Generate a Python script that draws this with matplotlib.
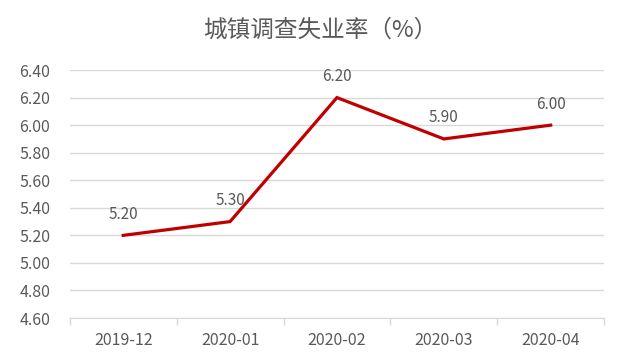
import matplotlib.pyplot as plt
import numpy as np

plt.rcParams['font.family'] = ['Noto Sans CJK SC', 'DejaVu Sans']

# data
months = ['2019-12', '2020-01', '2020-02', '2020-03', '2020-04']
rate = [5.20, 5.30, 6.20, 5.90, 6.00]
yticks = np.arange(4.6, 6.41, 0.2)

grey = '#595959'
line_col = '#C00000'

fig = plt.figure(figsize=(6.4, 3.61), dpi=100)
ax = fig.add_axes([0.109, 0.119, 0.835, 0.687])

x = np.arange(len(months))
ax.plot(x, rate, color=line_col, linewidth=2.3, solid_joinstyle='miter')

for xi, v in zip(x, rate):
    ax.annotate('%.2f' % v, (xi, v), textcoords='offset points', xytext=(0, 9),
                ha='center', va='bottom', fontsize=11, color=grey)

ax.set_xlim(-0.5, len(months) - 0.5)
ax.set_ylim(4.6, 6.4)
ax.set_yticks(yticks)
ax.set_yticklabels(['%.2f' % t for t in yticks])
ax.set_xticks(x)
ax.set_xticklabels(months)
# boundary ticks between categories
ax.set_xticks(np.arange(-0.5, len(months), 1), minor=True)
ax.tick_params(axis='x', which='major', length=0, pad=10, labelsize=11.5, labelcolor=grey)
ax.tick_params(axis='x', which='minor', length=5, color='#d9d9d9', width=1)
ax.tick_params(axis='y', length=0, pad=14, labelsize=11.5, labelcolor=grey)

ax.grid(axis='y', color='#d9d9d9', linewidth=1)
ax.set_axisbelow(True)
for s in ['top', 'right', 'left']:
    ax.spines[s].set_visible(False)
ax.spines['bottom'].set_color('#d9d9d9')

fig.text(0.5, 0.915, '城镇调查失业率（%）', ha='center', va='center',
         fontsize=17, color=grey)

fig.savefig('out.png', dpi=100)
